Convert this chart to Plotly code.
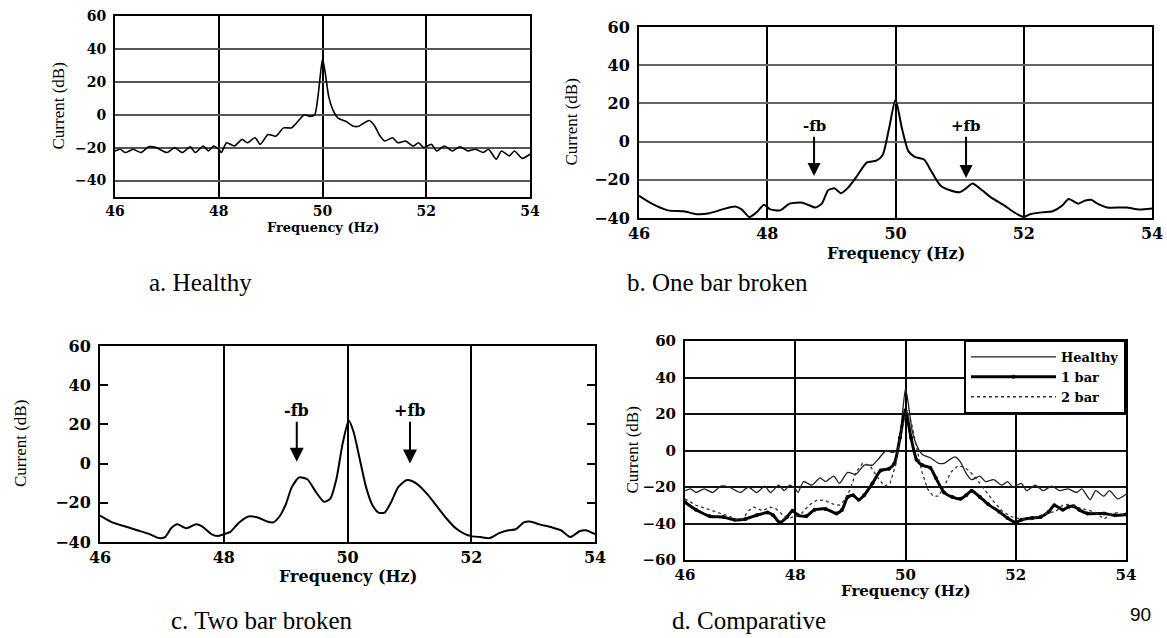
import plotly.graph_objects as go

# ---------------- data ----------------
freq_healthy = [46.0, 46.1, 46.2, 46.35, 46.5, 46.65, 46.8, 47.0, 47.15, 47.3, 47.45, 47.55, 47.7, 47.8, 47.9,
                48.0, 48.05, 48.15, 48.3, 48.45, 48.55, 48.7, 48.8, 48.95, 49.1, 49.25, 49.4, 49.5, 49.65, 49.75,
                49.85, 49.92, 50.0, 50.05, 50.12, 50.2, 50.3, 50.45, 50.6, 50.7, 50.8, 50.9, 51.0, 51.1, 51.2,
                51.35, 51.45, 51.6, 51.75, 51.85, 51.95, 52.1, 52.2, 52.35, 52.5, 52.65, 52.8, 52.95, 53.1, 53.2,
                53.35, 53.45, 53.6, 53.7, 53.85, 54.0]
current_healthy = [-22, -21, -23, -21, -23, -19.5, -20, -23, -20, -23, -19.5, -23, -19, -22, -19,
                   -21, -23, -17, -19, -15, -17, -14, -18, -12, -13, -8, -8, -5, 0, -1,
                   0, 13, 34, 26, 11, 3, -2, -4, -7, -7, -5, -3.5, -6.5, -12.5, -16,
                   -14, -17, -16, -19, -17, -20, -18, -22, -19, -22, -19.5, -22, -21, -23, -21,
                   -27, -22, -25, -22, -26.5, -24]

freq_one_bar = [46.0, 46.2, 46.45, 46.7, 46.9, 47.1, 47.3, 47.5, 47.6, 47.72, 47.85, 47.95, 48.05, 48.2, 48.35,
                48.55, 48.75, 48.85, 48.95, 49.05, 49.15, 49.25, 49.4, 49.55, 49.7, 49.8, 49.9, 50.0, 50.1, 50.2,
                50.3, 50.45, 50.55, 50.7, 50.85, 51.0, 51.1, 51.2, 51.35, 51.5, 51.7, 51.85, 52.0, 52.1, 52.3,
                52.45, 52.6, 52.7, 52.85, 52.95, 53.05, 53.15, 53.3, 53.6, 53.8, 54.0]
current_one_bar = [-28.4, -32.5, -36, -36.5, -38, -37.5, -35.5, -34, -35.5, -39.5, -36.5, -33, -35.5, -36, -32.5,
                   -32, -34.5, -32.5, -25.5, -24.5, -27, -24.5, -18, -11, -10, -7, 7, 22, 7, -5,
                   -8, -9.5, -15, -23, -25.5, -26.5, -24.5, -22, -25.5, -29.5, -33.5, -37, -39.5, -38, -37,
                   -36.5, -33.5, -30, -32.5, -31, -30.5, -32.5, -34.5, -34.5, -35.5, -35]

freq_two_bar = [46.0, 46.2, 46.4, 46.6, 46.8, 46.95, 47.05, 47.15, 47.25, 47.4, 47.55, 47.65, 47.8, 47.9, 48.0,
                48.1, 48.25, 48.4, 48.55, 48.7, 48.8, 48.9, 49.0, 49.1, 49.22, 49.35, 49.5, 49.62, 49.72, 49.82,
                49.92, 50.02, 50.1, 50.2, 50.3, 50.4, 50.5, 50.6, 50.7, 50.82, 50.95, 51.05, 51.15, 51.3, 51.45,
                51.6, 51.75, 51.9, 52.0, 52.15, 52.3, 52.45, 52.6, 52.72, 52.85, 52.95, 53.1, 53.3, 53.45, 53.6,
                53.75, 53.85, 54.0]
current_two_bar = [-26.5, -30, -32, -34, -36, -38, -37.5, -33, -31, -33, -31, -32, -36, -37, -36,
                   -35, -30, -27, -27.5, -29.5, -30, -27, -21, -12, -7, -8, -15, -19.5, -18, -8,
                   10, 22, 16, 2, -12, -21, -25, -25, -20, -12, -8.5, -9, -11, -16, -22,
                   -28, -33, -36, -37, -37.5, -38, -35.5, -34, -33.5, -30, -29.5, -31, -32.5, -34, -37.5,
                   -34.5, -34, -36]

x_ticks = [46, 48, 50, 52, 54]
y_ticks_a = [-40, -20, 0, 20, 40, 60]
y_ticks_d = [-60, -40, -20, 0, 20, 40, 60]

# sideband markers: label, frequency, label level, arrow tip level
fb_labels = ["-fb", "+fb"]
fb_freq_b = [48.73, 51.1]
fb_text_b = [8, 8]
fb_tip_b = [-18, -19]
fb_freq_c = [49.18, 51.01]
fb_text_c = [27, 27]
fb_tip_c = [1, 0]

captions = ["a. Healthy", "b. One bar broken", "c. Two bar broken", "d. Comparative"]
page_number = "90"

# ---------------- layout helpers ----------------
W, H = 1167, 638
def px(x):
    return x / W
def py(y):
    return 1 - y / H

# panel boxes in pixels: left, right, top, bottom
boxes = {
    "a": (115, 530, 16, 197),
    "b": (639, 1152, 27, 218),
    "c": (100, 595, 346, 542),
    "d": (685, 1126, 341, 560),
}

fig = go.Figure()

fig.add_trace(go.Scatter(x=freq_healthy, y=current_healthy, mode="lines", xaxis="x", yaxis="y",
                         line=dict(color="black", width=1.6, shape="spline", smoothing=0.6), showlegend=False))
fig.add_trace(go.Scatter(x=freq_one_bar, y=current_one_bar, mode="lines", xaxis="x2", yaxis="y2",
                         line=dict(color="black", width=2, shape="spline", smoothing=0.6), showlegend=False))
fig.add_trace(go.Scatter(x=freq_two_bar, y=current_two_bar, mode="lines", xaxis="x3", yaxis="y3",
                         line=dict(color="black", width=2, shape="spline", smoothing=0.6), showlegend=False))
# comparative
fig.add_trace(go.Scatter(x=freq_healthy, y=current_healthy, mode="lines", xaxis="x4", yaxis="y4", name="Healthy",
                         line=dict(color="#222", width=1.3, shape="spline", smoothing=0.6)))
fig.add_trace(go.Scatter(x=freq_one_bar, y=current_one_bar, mode="lines+markers", xaxis="x4", yaxis="y4", name="1 bar",
                         line=dict(color="black", width=3, shape="spline", smoothing=0.6),
                         marker=dict(color="black", size=4)))
fig.add_trace(go.Scatter(x=freq_two_bar, y=current_two_bar, mode="lines", xaxis="x4", yaxis="y4", name="2 bar",
                         line=dict(color="#333", width=1.3, dash="dot")))

tick_sizes = {"a": 14, "b": 16, "c": 16, "d": 15}
title_sizes = {"a": 13, "b": 16, "c": 16, "d": 15}
yranges = {"a": [-50, 60], "b": [-40, 60], "c": [-40, 60], "d": [-60, 60]}
ygrid = {"a": (True, "#555"), "b": (True, "#666"), "c": (False, "black"), "d": (True, "#111")}
suffix = {"a": "", "b": "2", "c": "3", "d": "4"}

for k, (l, r, t, b) in boxes.items():
    s = suffix[k]
    tf = dict(family="DejaVu Serif", size=tick_sizes[k], color="black", weight="bold")
    fig.layout["xaxis" + s] = dict(
        domain=[px(l), px(r)], anchor="y" + s, range=[46, 54], tickvals=x_ticks,
        showgrid=True, gridcolor="black", gridwidth=2, zeroline=False,
        showline=True, linecolor="black", linewidth=2, mirror=True, ticks="",
        tickfont=tf, ticklabelstandoff=0, automargin=False)
    yt = y_ticks_d if k == "d" else y_ticks_a
    fig.layout["yaxis" + s] = dict(
        domain=[py(b), py(t)], anchor="x" + s, range=yranges[k], tickvals=yt,
        showgrid=ygrid[k][0], gridcolor=ygrid[k][1], gridwidth=1.5, zeroline=False,
        showline=True, linecolor="black", linewidth=2,
        mirror="ticks" if k == "c" else True,
        ticks="inside" if k == "c" else "", ticklen=8, tickwidth=1.5, tickcolor="black",
        tickfont=tf, ticklabelstandoff=4, automargin=False)

annotations = []
# axis titles
ytitle_x = {"a": 58, "b": 571, "c": 20, "d": 632}
xtitle_y = {"a": 228, "b": 253, "c": 576, "d": 591}
for k, (l, r, t, b) in boxes.items():
    annotations.append(dict(text="Current (dB)", textangle=-90, x=px(ytitle_x[k]), y=py((t + b) / 2),
                            xref="paper", yref="paper", showarrow=False, xanchor="center", yanchor="middle",
                            font=dict(family="Liberation Serif", size=17, color="black")))
    annotations.append(dict(text="Frequency (Hz)", x=px((l + r) / 2), y=py(xtitle_y[k]),
                            xref="paper", yref="paper", showarrow=False, xanchor="center", yanchor="middle",
                            font=dict(family="DejaVu Serif", size=title_sizes[k], color="black", weight="bold")))

# sideband arrows
for lab, f, ty, tip in zip(fb_labels, fb_freq_b, fb_text_b, fb_tip_b):
    annotations.append(dict(text=lab, x=f, y=tip, ax=f, ay=ty, xref="x2", yref="y2", axref="x2", ayref="y2",
                            showarrow=True, arrowhead=2, arrowsize=1.3, arrowwidth=2, arrowcolor="black",
                            font=dict(family="DejaVu Serif", size=15, color="black", weight="bold")))
for lab, f, ty, tip in zip(fb_labels, fb_freq_c, fb_text_c, fb_tip_c):
    annotations.append(dict(text=lab, x=f, y=tip, ax=f, ay=ty, xref="x3", yref="y3", axref="x3", ayref="y3",
                            showarrow=True, arrowhead=2, arrowsize=1.4, arrowwidth=2, arrowcolor="black",
                            font=dict(family="DejaVu Serif", size=16, color="black", weight="bold")))

# captions
cap_pos = [(200, 282), (717, 282), (262, 620), (749, 620)]
for txt, (cx, cy) in zip(captions, cap_pos):
    annotations.append(dict(text=txt, x=px(cx), y=py(cy), xref="paper", yref="paper", showarrow=False,
                            xanchor="center", yanchor="middle",
                            font=dict(family="Liberation Serif", size=25, color="black")))
annotations.append(dict(text=page_number, x=px(1140), y=py(614), xref="paper", yref="paper", showarrow=False,
                        xanchor="center", yanchor="middle",
                        font=dict(family="Liberation Sans", size=19, color="black")))

fig.update_layout(
    width=W, height=H, margin=dict(l=0, r=0, t=0, b=0),
    paper_bgcolor="white", plot_bgcolor="white",
    annotations=annotations,
    legend=dict(x=px(1126), y=py(340), xanchor="right", yanchor="top",
                bgcolor="white", bordercolor="black", borderwidth=2,
                font=dict(family="DejaVu Serif", size=13, color="black", weight="bold"),
                itemwidth=85, tracegroupgap=0),
)

fig.write_html("out.html", config={"displayModeBar": False},
               post_script="document.body.style.margin='0';document.body.style.overflow='hidden';")
